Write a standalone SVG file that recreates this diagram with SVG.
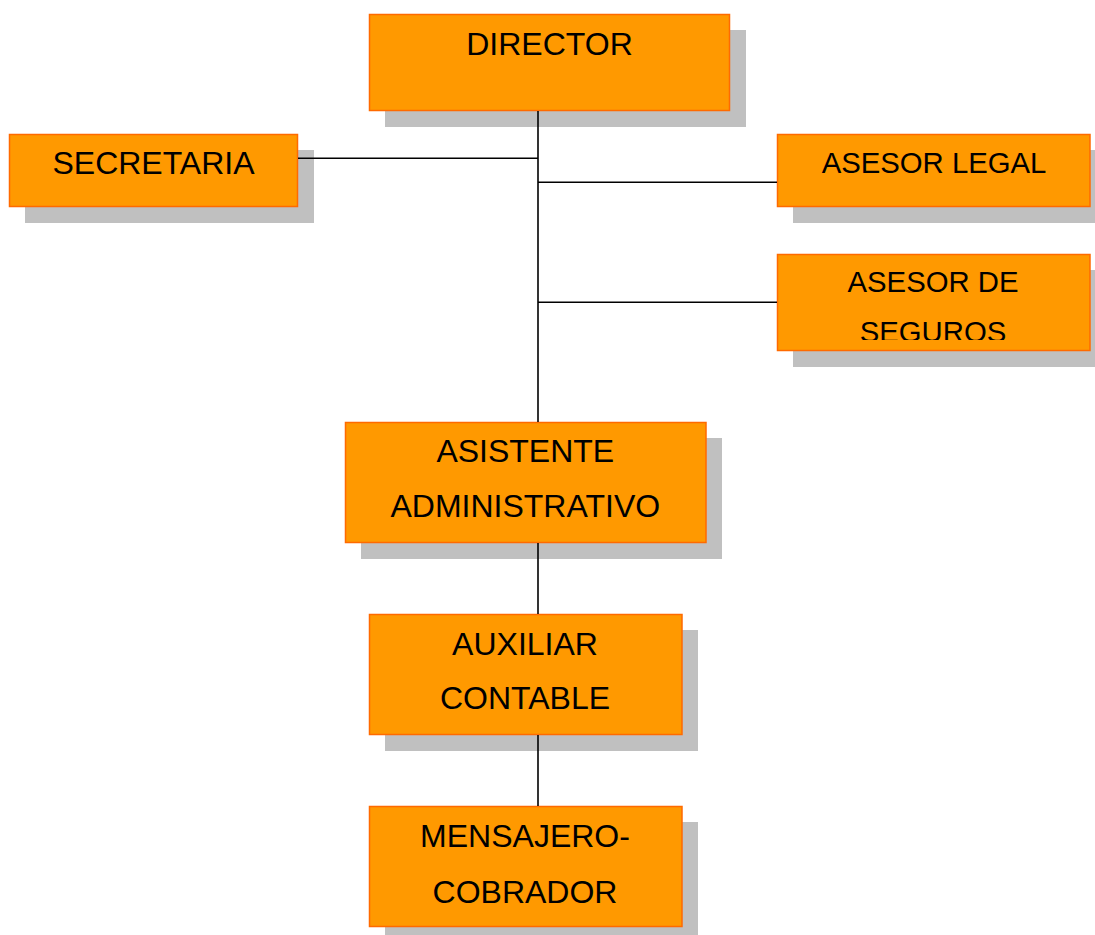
<svg xmlns="http://www.w3.org/2000/svg" width="1095" height="935" viewBox="0 0 1095 935">
  <style>
    .shadow { fill: #C0C0C0; }
    .box { fill: #FF9900; stroke: #FF6A00; stroke-width: 1.5; }
    .t { font-family: "Liberation Sans", Arial, sans-serif; font-size: 32px; fill: #000; text-anchor: middle; }
    .s { font-size: 29.3px; }
    .conn { stroke: #000; stroke-width: 1.6; fill: none; }
  </style>
  <defs>
    <clipPath id="clipSeg">
      <rect x="777" y="254" width="313" height="86"/>
    </clipPath>
  </defs>

  <g id="director">
    <rect class="shadow" x="385" y="30" width="361" height="97"/>
    <rect class="box" x="369.5" y="14.5" width="360" height="96"/>
    <text class="t" x="549.5" y="55">DIRECTOR</text>
  </g>

  <g id="secretaria">
    <rect class="shadow" x="25" y="150" width="289" height="73"/>
    <rect class="box" x="9.5" y="134.5" width="288" height="72"/>
    <text class="t" x="153.5" y="174">SECRETARIA</text>
  </g>

  <g id="asesor-legal">
    <rect class="shadow" x="793" y="150" width="302" height="73"/>
    <rect class="box" x="777.5" y="134.5" width="312.5" height="72"/>
    <text class="t s" x="934" y="172.5">ASESOR LEGAL</text>
  </g>

  <g id="asesor-seguros">
    <rect class="shadow" x="793" y="270" width="302" height="97"/>
    <rect class="box" x="777.5" y="254.5" width="312.5" height="96"/>
    <g clip-path="url(#clipSeg)">
      <text class="t s" x="933" y="292">ASESOR DE</text>
      <text class="t s" x="933" y="342">SEGUROS</text>
    </g>
  </g>

  <g id="asistente">
    <rect class="shadow" x="361" y="438" width="361" height="121"/>
    <rect class="box" x="345.5" y="422.5" width="360.5" height="120"/>
    <text class="t" x="525.3" y="462">ASISTENTE</text>
    <text class="t" x="525.3" y="517">ADMINISTRATIVO</text>
  </g>

  <g id="auxiliar">
    <rect class="shadow" x="385" y="630" width="313" height="121"/>
    <rect class="box" x="369.5" y="614.5" width="312.5" height="120"/>
    <text class="t" x="525" y="655">AUXILIAR</text>
    <text class="t" x="525" y="708.5">CONTABLE</text>
  </g>

  <g id="mensajero">
    <rect class="shadow" x="385" y="822" width="313" height="113"/>
    <rect class="box" x="369.5" y="806.5" width="312.5" height="120"/>
    <text class="t" x="525" y="847">MENSAJERO-</text>
    <text class="t" x="525" y="902.5">COBRADOR</text>
  </g>

  <g id="connectors">
    <line class="conn" x1="538" y1="111" x2="538" y2="422"/>
    <line class="conn" x1="298" y1="158.3" x2="538" y2="158.3"/>
    <line class="conn" x1="538" y1="182.3" x2="777" y2="182.3"/>
    <line class="conn" x1="538" y1="302.3" x2="777" y2="302.3"/>
    <line class="conn" x1="538" y1="543" x2="538" y2="614"/>
    <line class="conn" x1="538" y1="735" x2="538" y2="806"/>
  </g>
</svg>
